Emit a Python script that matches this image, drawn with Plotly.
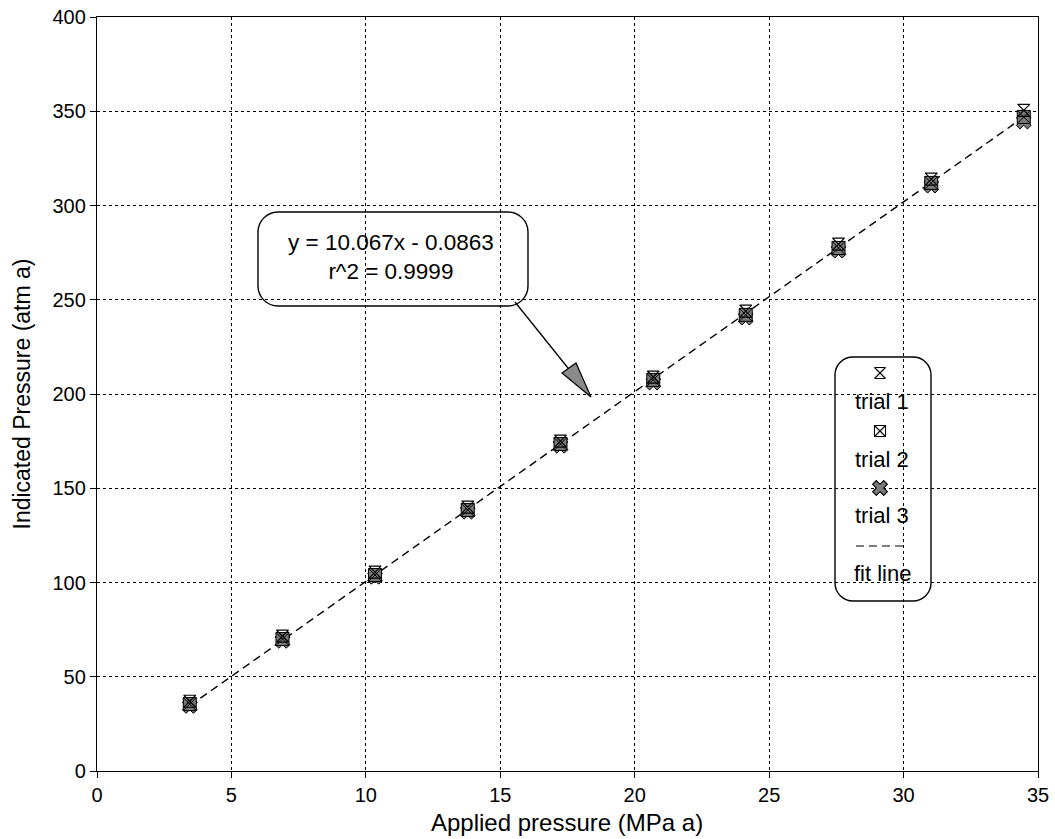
import plotly.graph_objects as go

# Applied pressure steps (MPa a) and indicated readings (atm a) for three trials
applied = [3.45, 6.90, 10.34, 13.79, 17.24, 20.69, 24.13, 27.58, 31.03, 34.47]
trial_1 = [37.0, 71.5, 105.5, 140.0, 175.0, 209.0, 244.0, 279.5, 314.0, 350.5]
trial_2 = [35.5, 70.0, 104.0, 138.5, 173.5, 207.5, 242.0, 277.5, 312.0, 347.0]
trial_3 = [34.5, 69.0, 103.0, 137.5, 172.5, 206.0, 240.5, 276.0, 310.5, 344.5]

# Least-squares fit reported in the callout
slope, intercept, r2 = 10.067, -0.0863, 0.9999
fit_x = [applied[0], applied[-1]]
fit_y = [slope * v + intercept for v in fit_x]

x_ticks = [0, 5, 10, 15, 20, 25, 30, 35]
y_ticks = [0, 50, 100, 150, 200, 250, 300, 350, 400]

FONT = "Liberation Sans, Arial, Helvetica, sans-serif"
GRAY = "#7a7a7a"

fig = go.Figure()

fig.add_trace(go.Scatter(x=fit_x, y=fit_y, mode="lines",
                         line=dict(color="black", width=1.4, dash="8px,5px"),
                         showlegend=False, hoverinfo="skip"))
fig.add_trace(go.Scatter(x=applied, y=trial_3, mode="markers", name="trial 3",
                         marker=dict(symbol="x", size=13, color=GRAY,
                                     line=dict(color="black", width=1)),
                         showlegend=False))
fig.add_trace(go.Scatter(x=applied, y=trial_2, mode="markers", name="trial 2",
                         marker=dict(symbol="square-x", size=13, color=GRAY,
                                     line=dict(color="black", width=1)),
                         showlegend=False))
fig.add_trace(go.Scatter(x=applied, y=trial_1, mode="markers", name="trial 1",
                         marker=dict(symbol="hourglass-open", size=12, color="black",
                                     line=dict(color="black", width=1.2)),
                         showlegend=False))

# Hand-built legend on an overlay axis spanning the plot area (0..1 in both directions)
def px2paper_x(px):
    return (px - 97) / 941.0

def px2paper_y(py):
    return (771 - py) / 754.0

leg_cx = px2paper_x(880)
leg_symbols = [("hourglass-open", 11, "black", 373),
               ("square-x-open", 11, "black", 431),
               ("x", 13, GRAY, 488)]
for sym, size, col, py in leg_symbols:
    fig.add_trace(go.Scatter(x=[leg_cx], y=[px2paper_y(py)], mode="markers",
                             xaxis="x2", yaxis="y2",
                             marker=dict(symbol=sym, size=size, color=col,
                                         line=dict(color="black", width=1.1)),
                             showlegend=False, hoverinfo="skip"))
fig.add_trace(go.Scatter(x=[px2paper_x(856), px2paper_x(906)],
                         y=[px2paper_y(546), px2paper_y(546)], mode="lines",
                         xaxis="x2", yaxis="y2",
                         line=dict(color="black", width=1.2, dash="8px,5px"),
                         showlegend=False, hoverinfo="skip"))

leg_labels = [("trial 1", 401), ("trial 2", 459), ("trial 3", 515), ("fit line", 573)]
annotations = []
for txt, py in leg_labels:
    annotations.append(dict(x=px2paper_x(882), y=px2paper_y(py), xref="paper", yref="paper",
                            text=txt, showarrow=False, xanchor="center", yanchor="middle",
                            font=dict(family=FONT, size=22, color="black")))

# Equation callout text
annotations.append(dict(x=px2paper_x(391), y=px2paper_y(257), xref="paper", yref="paper",
                        text=f"y = {slope}x - {abs(intercept)}<br>r^2 = {r2}",
                        showarrow=False, xanchor="center", yanchor="middle", align="center",
                        font=dict(family=FONT, size=22.5, color="black")))

# X axis title
annotations.append(dict(x=px2paper_x(567), y=px2paper_y(823), xref="paper", yref="paper",
                        text="Applied pressure (MPa a)", showarrow=False,
                        xanchor="center", yanchor="middle",
                        font=dict(family=FONT, size=24, color="black")))


def rounded_rect(x0, y0, x1, y1, r):
    # pixel-space rounded rectangle converted to paper coordinates
    k = 0.45
    path = (f"M {x0 + r},{y0} L {x1 - r},{y0} "
            f"C {x1 - r * k},{y0} {x1},{y0 + r * k} {x1},{y0 + r} "
            f"L {x1},{y1 - r} "
            f"C {x1},{y1 - r * k} {x1 - r * k},{y1} {x1 - r},{y1} "
            f"L {x0 + r},{y1} "
            f"C {x0 + r * k},{y1} {x0},{y1 - r * k} {x0},{y1 - r} "
            f"L {x0},{y0 + r} "
            f"C {x0},{y0 + r * k} {x0 + r * k},{y0} {x0 + r},{y0} Z")
    out = []
    for tok in path.split(" "):
        if "," in tok:
            a, b = tok.split(",")
            out.append(f"{px2paper_x(float(a)):.5f},{px2paper_y(float(b)):.5f}")
        else:
            out.append(tok)
    return " ".join(out)


shapes = [
    dict(type="path", xref="paper", yref="paper",
         path=rounded_rect(835, 357, 931, 601, 18),
         line=dict(color="black", width=1.4), fillcolor="white", layer="between"),
    dict(type="path", xref="paper", yref="paper",
         path=rounded_rect(258, 212, 528, 306, 20),
         line=dict(color="black", width=1.4), fillcolor="white", layer="between"),
    # pointer from callout to the fit line
    dict(type="line", xref="paper", yref="paper",
         x0=px2paper_x(515), y0=px2paper_y(302), x1=px2paper_x(576), y1=px2paper_y(378),
         line=dict(color="black", width=1.3), layer="above"),
    dict(type="path", xref="paper", yref="paper",
         path=(f"M {px2paper_x(591):.5f},{px2paper_y(397):.5f} "
               f"L {px2paper_x(562):.5f},{px2paper_y(373):.5f} "
               f"L {px2paper_x(576):.5f},{px2paper_y(363):.5f} Z"),
         line=dict(color="black", width=1.2), fillcolor="#8a8a8a", layer="above"),
]

grid_style = dict(showgrid=True, gridcolor="black", gridwidth=1.3, griddash="3px,3px",
                  showline=True, linecolor="black", linewidth=1.4, mirror=True,
                  ticks="outside", ticklen=6, tickcolor="black", tickwidth=1.2,
                  zeroline=False, automargin=False,
                  tickfont=dict(family=FONT, size=20, color="black"))

fig.update_layout(
    width=1055, height=839,
    margin=dict(l=97, r=17, t=17, b=68),
    paper_bgcolor="white", plot_bgcolor="white",
    showlegend=False,
    xaxis=dict(range=[0, 35], tickvals=x_ticks, **grid_style),
    yaxis=dict(range=[0, 400], tickvals=y_ticks, **grid_style,
               title=dict(text="Indicated Pressure (atm a)", standoff=15,
                          font=dict(family=FONT, size=23, color="black"))),
    xaxis2=dict(overlaying="x", range=[0, 1], visible=False, fixedrange=True),
    yaxis2=dict(overlaying="y", range=[0, 1], visible=False, fixedrange=True),
    shapes=shapes,
    annotations=annotations,
)

fig.write_html("out.html")
